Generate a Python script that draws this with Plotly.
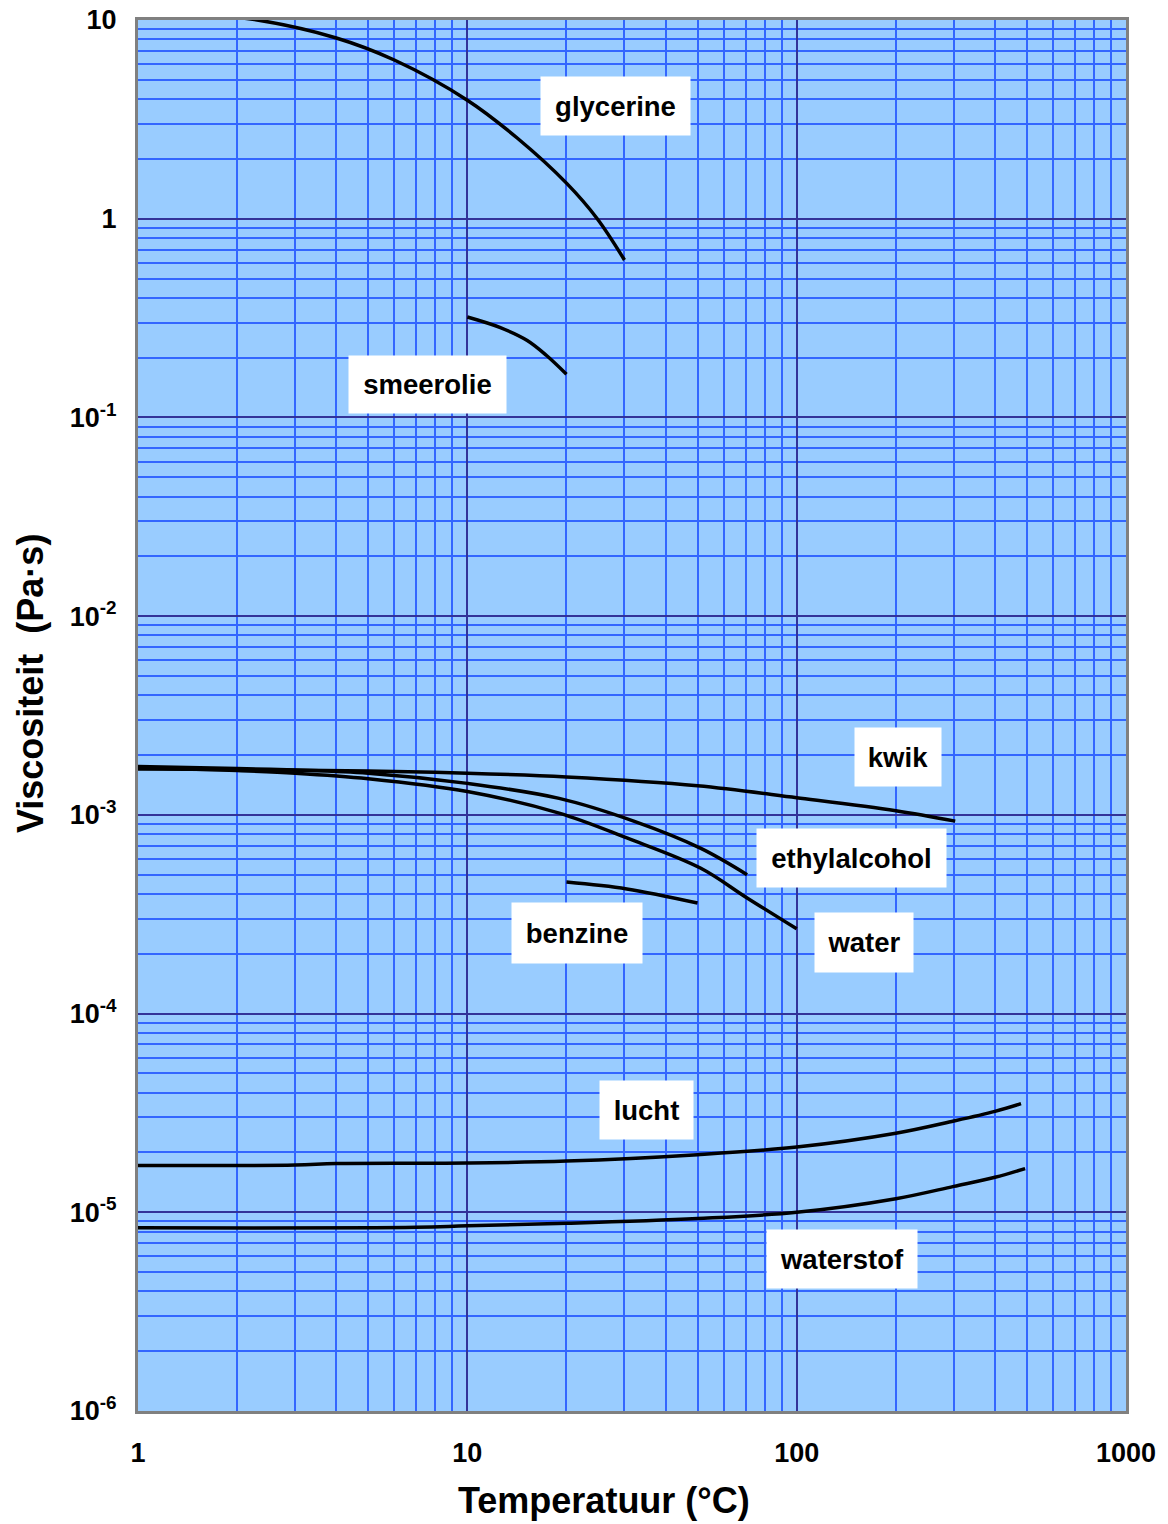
import numpy as np
import plotly.graph_objects as go

# ---------------- data (temperature in °C, viscosity in Pa·s) ----------------
glycerine_T = [1, 2.3, 4.0, 6.0, 10, 14.2, 20, 24.8, 30]
glycerine_v = [11.3, 10.0, 8.12, 6.29, 3.95, 2.54, 1.51, 1.0, 0.62]

smeerolie_T = [10, 12.6, 15.2, 17.4, 20]
smeerolie_v = [0.32, 0.283, 0.244, 0.205, 0.165]

kwik_T = [1, 2, 5, 10, 20, 50, 100, 200, 303]
kwik_v = [1.70e-3, 1.69e-3, 1.66e-3, 1.62e-3, 1.55e-3, 1.40e-3, 1.22e-3, 1.05e-3, 0.93e-3]

ethylalcohol_T = [1, 2, 3, 5, 10, 19, 32, 51, 70.7]
ethylalcohol_v = [1.75e-3, 1.71e-3, 1.68e-3, 1.62e-3, 1.44e-3, 1.21e-3, 0.93e-3, 0.68e-3, 0.50e-3]

water_T = [1, 2, 3, 5, 10, 19, 30.5, 51, 70.7, 100]
water_v = [1.73e-3, 1.67e-3, 1.62e-3, 1.52e-3, 1.31e-3, 1.02e-3, 0.765e-3, 0.54e-3, 0.382e-3, 0.267e-3]

benzine_T = [20, 30.5, 50]
benzine_v = [4.59e-4, 4.24e-4, 3.6e-4]

lucht_T = [1, 3, 4, 10, 20, 50, 100, 200, 300, 400, 480]
lucht_v = [1.72e-5, 1.73e-5, 1.76e-5, 1.77e-5, 1.81e-5, 1.95e-5, 2.13e-5, 2.5e-5, 2.88e-5, 3.22e-5, 3.52e-5]

waterstof_T = [1, 7, 10, 20, 50, 100, 200, 300, 400, 494]
waterstof_v = [8.35e-6, 8.4e-6, 8.55e-6, 8.8e-6, 9.3e-6, 1.0e-5, 1.17e-5, 1.35e-5, 1.5e-5, 1.66e-5]

# labels (text, position in data units, box size)
label_text = ["glycerine", "smeerolie", "kwik", "ethylalcohol", "benzine", "water", "lucht", "waterstof"]
label_T = [28.1, 7.55, 203, 147, 21.5, 160, 35.1, 137]
label_v = [3.69, 0.1466, 1.96e-3, 6.07e-4, 2.55e-4, 2.29e-4, 3.27e-5, 5.8e-6]
label_w = [149, 157, 86, 189, 130, 98, 93, 150]
label_h = [58, 57, 58, 58, 60, 59, 58, 58]

x_tickvals = [1, 10, 100, 1000]
x_ticktext = ["1", "10", "100", "1000"]
y_tickvals = [1e-6, 1e-5, 1e-4, 1e-3, 1e-2, 1e-1, 1, 10]
y_ticktext = ["10<sup>-6</sup>", "10<sup>-5</sup>", "10<sup>-4</sup>", "10<sup>-3</sup>",
              "10<sup>-2</sup>", "10<sup>-1</sup>", "1", "10"]

x_title = "Temperatuur (°C)"
y_title = "Viscositeit  (Pa·s)"

# ---------------- figure ----------------
FONT = "Liberation Sans, Arial, Helvetica, sans-serif"
BG = "#99CCFF"
MINOR = "#3366FF"
MAJOR = "#333399"

series = [
    (glycerine_T, glycerine_v), (smeerolie_T, smeerolie_v), (kwik_T, kwik_v),
    (ethylalcohol_T, ethylalcohol_v), (water_T, water_v), (benzine_T, benzine_v),
    (lucht_T, lucht_v), (waterstof_T, waterstof_v),
]

fig = go.Figure()
for T, v in series:
    fig.add_trace(go.Scatter(x=T, y=v, mode="lines",
                             line=dict(color="black", width=3.5, shape="spline", smoothing=1.0),
                             showlegend=False, hoverinfo="skip"))

for txt, lx, ly, w, h in zip(label_text, label_T, label_v, label_w, label_h):
    fig.add_annotation(x=np.log10(lx), y=np.log10(ly), xref="x", yref="y",
                       text="<b>" + txt + "</b>", showarrow=False,
                       font=dict(family=FONT, size=27.5, color="black"),
                       bgcolor="white", width=w, height=h, borderpad=0,
                       align="center", valign="middle")

# axis titles (placed as in the reference, slightly off-centre)
fig.add_annotation(x=0.4717, y=-0.0640, xref="paper", yref="paper",
                   text="<b>" + x_title + "</b>", showarrow=False,
                   xanchor="center", yanchor="middle",
                   font=dict(family=FONT, size=36, color="black"))
fig.add_annotation(x=-0.1093, y=0.5226, xref="paper", yref="paper",
                   text="<b>" + y_title + "</b>", showarrow=False, textangle=-90,
                   xanchor="center", yanchor="middle",
                   font=dict(family=FONT, size=36, color="black"))

fig.update_xaxes(type="log", range=[0, 3],
                 tickvals=x_tickvals, ticktext=["<b>" + t + "</b>" for t in x_ticktext],
                 tickfont=dict(family=FONT, size=27, color="black"),
                 ticks="", ticklabelstandoff=16,
                 showgrid=True, gridcolor=MAJOR, gridwidth=2,
                 minor=dict(dtick="D1", showgrid=True, gridcolor=MINOR, gridwidth=1.5),
                 showline=True, mirror=True, linecolor="#808080", linewidth=3,
                 zeroline=False)

fig.update_yaxes(type="log", range=[-6, 1],
                 tickvals=y_tickvals, ticktext=["<b>" + t + "</b>" for t in y_ticktext],
                 tickfont=dict(family=FONT, size=27, color="black"),
                 ticks="", ticklabelstandoff=13,
                 showgrid=True, gridcolor=MAJOR, gridwidth=2,
                 minor=dict(dtick="D1", showgrid=True, gridcolor=MINOR, gridwidth=1.5),
                 showline=True, mirror=True, linecolor="#808080", linewidth=3,
                 zeroline=False)

fig.update_layout(width=1168, height=1524,
                  margin=dict(l=138, r=42, t=20, b=113, autoexpand=False),
                  paper_bgcolor="white", plot_bgcolor=BG,
                  font=dict(family=FONT, color="black"))

fig.write_html("out.html", config={"displayModeBar": False},
               post_script="document.body.style.margin='0';document.body.style.overflow='hidden';")
